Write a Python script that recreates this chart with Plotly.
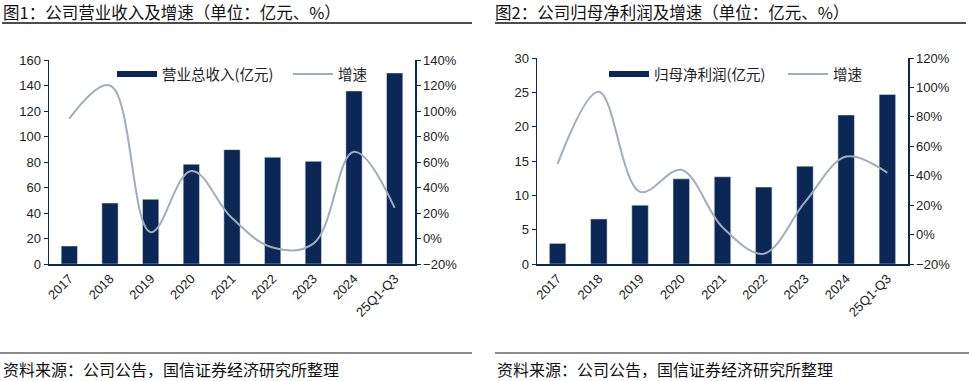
import plotly.graph_objects as go

categories = ["2017", "2018", "2019", "2020", "2021", "2022", "2023", "2024", "25Q1-Q3"]
revenue = [14.1, 47.8, 50.7, 78.2, 89.7, 83.7, 80.5, 135.7, 149.8]
revenue_growth = [94, 120, 5, 53, 16, -7, -4, 68, 24]
profit = [3.0, 6.56, 8.56, 12.4, 12.7, 11.2, 14.25, 21.7, 24.7]
profit_growth = [48, 97, 29, 44, 5, -13, 22, 53, 42]

title1 = "图1：公司营业收入及增速（单位：亿元、%）"
title2 = "图2：公司归母净利润及增速（单位：亿元、%）"
source = "资料来源：公司公告，国信证券经济研究所整理"
bar_name1 = "营业总收入(亿元)"
bar_name2 = "归母净利润(亿元)"
line_name = "增速"

NAVY = "#0b2755"
GREY = "#9fadbd"
W, H = 969, 381
TICKFONT = dict(family="Liberation Sans, Arial, sans-serif", size=13, color="#222")
CJK = "Noto Sans CJK SC"

def px_x(v):
    return v / W

def px_y(v):
    return 1 - v / H

fig = go.Figure()

# left chart
fig.add_trace(go.Bar(x=categories, y=revenue, marker_color=NAVY, width=0.4,
                     xaxis="x", yaxis="y", showlegend=False))
fig.add_trace(go.Scatter(x=categories, y=revenue_growth, mode="lines",
                         line=dict(color=GREY, width=2, shape="spline", smoothing=1.1),
                         xaxis="x", yaxis="y2", showlegend=False))
fig.add_trace(go.Scatter(x=[None], y=[None], mode="lines", name=bar_name1,
                         line=dict(color=NAVY, width=6), xaxis="x", yaxis="y", legend="legend"))
fig.add_trace(go.Scatter(x=[None], y=[None], mode="lines", name=line_name,
                         line=dict(color=GREY, width=2), xaxis="x", yaxis="y", legend="legend"))

# right chart
fig.add_trace(go.Bar(x=categories, y=profit, marker_color=NAVY, width=0.4,
                     xaxis="x2", yaxis="y3", showlegend=False))
fig.add_trace(go.Scatter(x=categories, y=profit_growth, mode="lines",
                         line=dict(color=GREY, width=2, shape="spline", smoothing=1.0),
                         xaxis="x2", yaxis="y4", showlegend=False))
fig.add_trace(go.Scatter(x=[None], y=[None], mode="lines", name=bar_name2,
                         line=dict(color=NAVY, width=6), xaxis="x2", yaxis="y3", legend="legend2"))
fig.add_trace(go.Scatter(x=[None], y=[None], mode="lines", name=line_name,
                         line=dict(color=GREY, width=2), xaxis="x2", yaxis="y3", legend="legend2"))

xcommon = dict(showgrid=False, showline=True, linecolor=NAVY, linewidth=2, ticks="",
               tickangle=-45, tickfont=TICKFONT, zeroline=False, automargin=False)
ycommon = dict(showgrid=False, showline=True, linecolor=NAVY, linewidth=1.5, ticks="outside",
               ticklen=4, tickcolor=NAVY, tickfont=TICKFONT, zeroline=False, automargin=False)

legend_common = dict(orientation="h", xanchor="left", yanchor="top",
                     font=dict(family=CJK, size=14.5, color="#222"), bgcolor="rgba(0,0,0,0)",
                     itemwidth=40, tracegroupgap=0)

fig.update_layout(
    width=W, height=H,
    margin=dict(l=0, r=0, t=0, b=0, autoexpand=False),
    paper_bgcolor="white", plot_bgcolor="white",
    xaxis=dict(domain=[px_x(49), px_x(415)], anchor="y", **xcommon),
    yaxis=dict(domain=[px_y(264), px_y(60)], anchor="x", range=[0, 160], dtick=20, **ycommon),
    yaxis2=dict(overlaying="y", side="right", anchor="x", range=[-20, 140], dtick=20,
                ticksuffix="%", **ycommon),
    xaxis2=dict(domain=[px_x(537), px_x(908)], anchor="y3", **xcommon),
    yaxis3=dict(domain=[px_y(264), px_y(58)], anchor="x2", range=[0, 30], dtick=5, **ycommon),
    yaxis4=dict(overlaying="y3", side="right", anchor="x2", range=[-20, 120], dtick=20,
                ticksuffix="%", **ycommon),
    legend=dict(x=px_x(112), y=px_y(58), entrywidth=121, **legend_common),
    legend2=dict(x=px_x(604), y=px_y(58), entrywidth=124, **legend_common),
    shapes=[
        dict(type="line", xref="paper", yref="paper", x0=px_x(2), x1=px_x(472),
             y0=px_y(23), y1=px_y(23), line=dict(color="#111", width=1.5)),
        dict(type="line", xref="paper", yref="paper", x0=px_x(495), x1=px_x(966),
             y0=px_y(23), y1=px_y(23), line=dict(color="#111", width=1.5)),
        dict(type="line", xref="paper", yref="paper", x0=px_x(0), x1=px_x(472),
             y0=px_y(353), y1=px_y(353), line=dict(color="#8a8a8a", width=2)),
        dict(type="line", xref="paper", yref="paper", x0=px_x(495), x1=px_x(969),
             y0=px_y(353), y1=px_y(353), line=dict(color="#8a8a8a", width=2)),
    ],
    annotations=[
        dict(text=title1, xref="paper", yref="paper", x=px_x(2), y=px_y(12.5), xanchor="left",
             yanchor="middle", showarrow=False, borderpad=0,
             font=dict(family=CJK, size=16.5, color="#111")),
        dict(text=title2, xref="paper", yref="paper", x=px_x(494), y=px_y(12.5), xanchor="left",
             yanchor="middle", showarrow=False, borderpad=0,
             font=dict(family=CJK, size=16.5, color="#111")),
        dict(text=source, xref="paper", yref="paper", x=px_x(2), y=px_y(369), xanchor="left",
             yanchor="middle", showarrow=False, borderpad=0,
             font=dict(family=CJK, size=16, color="#111")),
        dict(text=source, xref="paper", yref="paper", x=px_x(496), y=px_y(369), xanchor="left",
             yanchor="middle", showarrow=False, borderpad=0,
             font=dict(family=CJK, size=16, color="#111")),
    ],
)

fig.write_html("out.html", config={"displayModeBar": False, "staticPlot": True})
with open("out.html", encoding="utf-8") as f:
    html = f.read()
html = html.replace("<head>", "<head><style>html,body{margin:0;padding:0;overflow:hidden;}</style>", 1)
with open("out.html", "w", encoding="utf-8") as f:
    f.write(html)
